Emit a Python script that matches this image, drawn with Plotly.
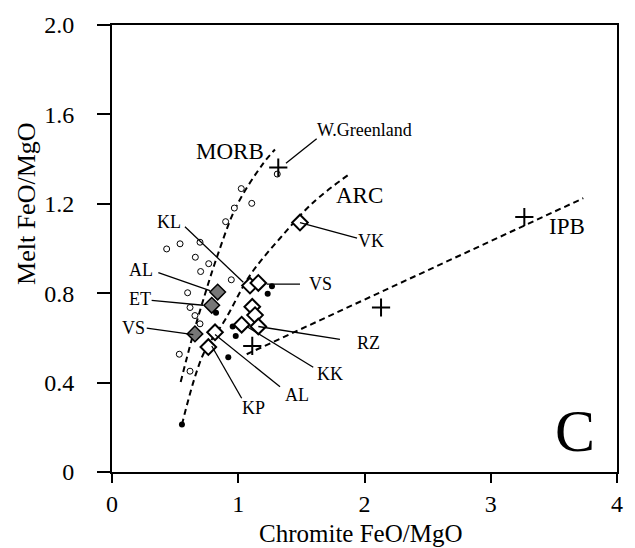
import plotly.graph_objects as go

# ---------------- data ----------------
open_circle_x = [1.309, 1.024, 1.107, 0.969, 0.900, 0.697, 0.539, 0.433, 0.660, 0.766, 0.702, 0.945, 0.599, 0.618, 0.657, 0.697, 0.533, 0.618]
open_circle_y = [1.333, 1.268, 1.202, 1.181, 1.120, 1.028, 1.021, 0.998, 0.961, 0.932, 0.897, 0.860, 0.802, 0.736, 0.700, 0.663, 0.527, 0.451]

filled_dot_x = [1.267, 1.233, 0.824, 0.956, 0.980, 0.921, 0.554]
filled_dot_y = [0.831, 0.797, 0.713, 0.651, 0.608, 0.513, 0.212]

cross_x = [1.317, 1.111, 2.131, 3.266]
cross_y = [1.362, 0.564, 0.736, 1.141]

open_diamond_x = [1.489, 1.093, 1.159, 1.111, 1.133, 1.027, 1.159, 0.816, 0.763]
open_diamond_y = [1.116, 0.834, 0.846, 0.739, 0.702, 0.659, 0.651, 0.625, 0.559]

grey_diamond_x = [0.837, 0.790, 0.657]
grey_diamond_y = [0.805, 0.746, 0.618]

morb_x = [0.544, 0.630, 0.710, 0.829, 0.988, 1.198, 1.291]
morb_y = [0.403, 0.590, 0.746, 0.958, 1.192, 1.381, 1.443]

arc_x = [0.554, 0.723, 0.895, 1.093, 1.331, 1.594, 1.885]
arc_y = [0.212, 0.527, 0.680, 0.880, 1.046, 1.206, 1.335]

ipb_x = [1.067, 3.733]
ipb_y = [0.527, 1.225]

# labels: text, x, y, font size
field_labels = [("MORB", 0.935, 1.433, 23), ("ARC", 1.957, 1.235, 23), ("IPB", 3.60, 1.097, 23)]
point_labels = [
    ("W.Greenland", 1.996, 1.529, 18),
    ("VK", 2.05, 1.034, 18),
    ("VS", 1.65, 0.841, 18),
    ("KL", 0.452, 1.117, 18),
    ("AL", 0.230, 0.903, 18),
    ("ET", 0.222, 0.775, 18),
    ("VS", 0.174, 0.644, 18),
    ("KP", 1.117, 0.285, 18),
    ("AL", 1.469, 0.346, 18),
    ("KK", 1.727, 0.438, 18),
    ("RZ", 2.028, 0.578, 18),
]
# leader lines: (x0, y0, x1, y1)
leaders = [
    (1.621, 1.491, 1.378, 1.381),
    (1.941, 1.046, 1.489, 1.116),
    (1.489, 0.841, 1.225, 0.841),
    (0.578, 1.097, 1.040, 0.849),
    (0.367, 0.892, 0.776, 0.812),
    (0.314, 0.768, 0.723, 0.746),
    (0.275, 0.644, 0.644, 0.615),
    (1.027, 0.330, 0.790, 0.564),
    (1.331, 0.381, 0.816, 0.615),
    (1.594, 0.469, 1.067, 0.651),
    (1.806, 0.593, 1.159, 0.651),
]

x_ticks = [0, 1, 2, 3, 4]
y_ticks = [0, 0.4, 0.8, 1.2, 1.6, 2.0]
y_tick_text = ["0", "0.4", "0.8", "1.2", "1.6", "2.0"]

x_title = "Chromite FeO/MgO"
y_title = "Melt FeO/MgO"

SERIF = "Liberation Serif, Times New Roman, serif"

fig = go.Figure()

dash = "6px,4px"
for xs, ys in [(morb_x, morb_y), (arc_x, arc_y), (ipb_x, ipb_y)]:
    fig.add_trace(go.Scatter(x=xs, y=ys, mode="lines", line=dict(color="black", width=2, dash=dash, shape="spline"),
                             hoverinfo="skip", showlegend=False))

for l in leaders:
    fig.add_shape(type="line", x0=l[0], y0=l[1], x1=l[2], y1=l[3], xref="x", yref="y",
                  line=dict(color="black", width=1.3))

fig.add_trace(go.Scatter(x=open_circle_x, y=open_circle_y, mode="markers",
                         marker=dict(symbol="circle", size=6, color="white", line=dict(color="black", width=1)),
                         showlegend=False))
fig.add_trace(go.Scatter(x=filled_dot_x, y=filled_dot_y, mode="markers",
                         marker=dict(symbol="circle", size=6, color="black"), showlegend=False))
fig.add_trace(go.Scatter(x=cross_x, y=cross_y, mode="markers",
                         marker=dict(symbol="cross-thin-open", size=13, color="black",
                                     line=dict(color="black", width=2)),
                         showlegend=False))
fig.add_trace(go.Scatter(x=open_diamond_x, y=open_diamond_y, mode="markers",
                         marker=dict(symbol="diamond", size=12, color="white", line=dict(color="black", width=2)),
                         showlegend=False))
fig.add_trace(go.Scatter(x=grey_diamond_x, y=grey_diamond_y, mode="markers",
                         marker=dict(symbol="diamond", size=12, color="#777777", line=dict(color="black", width=1.5)),
                         showlegend=False))

for t, x, y, s in field_labels + point_labels:
    fig.add_annotation(x=x, y=y, text=t, showarrow=False, xref="x", yref="y",
                       font=dict(family=SERIF, size=s, color="black"))

fig.add_annotation(x=3.667, y=0.184, text="C", showarrow=False, xref="x", yref="y",
                   font=dict(family=SERIF, size=60, color="black"))

# axis titles
fig.add_annotation(x=0.493, y=-0.137, xref="paper", yref="paper", text=x_title, showarrow=False,
                   xanchor="center", yanchor="middle", font=dict(family=SERIF, size=25, color="black"))
fig.add_annotation(x=-0.168, y=0.60, xref="paper", yref="paper", text=y_title, showarrow=False, textangle=-90,
                   xanchor="center", yanchor="middle", font=dict(family=SERIF, size=26, color="black"))

axis_common = dict(showgrid=False, zeroline=False, showline=True, linecolor="black", linewidth=2,
                   mirror=True, ticks="outside", tickcolor="black", tickwidth=2,
                   tickfont=dict(family=SERIF, size=24, color="black"))

fig.update_xaxes(range=[0, 4], tickvals=x_ticks, ticklen=9, ticklabelstandoff=0, **axis_common)
fig.update_yaxes(range=[0, 2.0], tickvals=y_ticks, ticktext=y_tick_text, ticklen=13, ticklabelstandoff=18,
                 **axis_common)

fig.update_layout(width=635, height=548, margin=dict(l=112, r=18, t=16, b=76),
                  plot_bgcolor="white", paper_bgcolor="white", showlegend=False)

fig.write_html("out.html")
